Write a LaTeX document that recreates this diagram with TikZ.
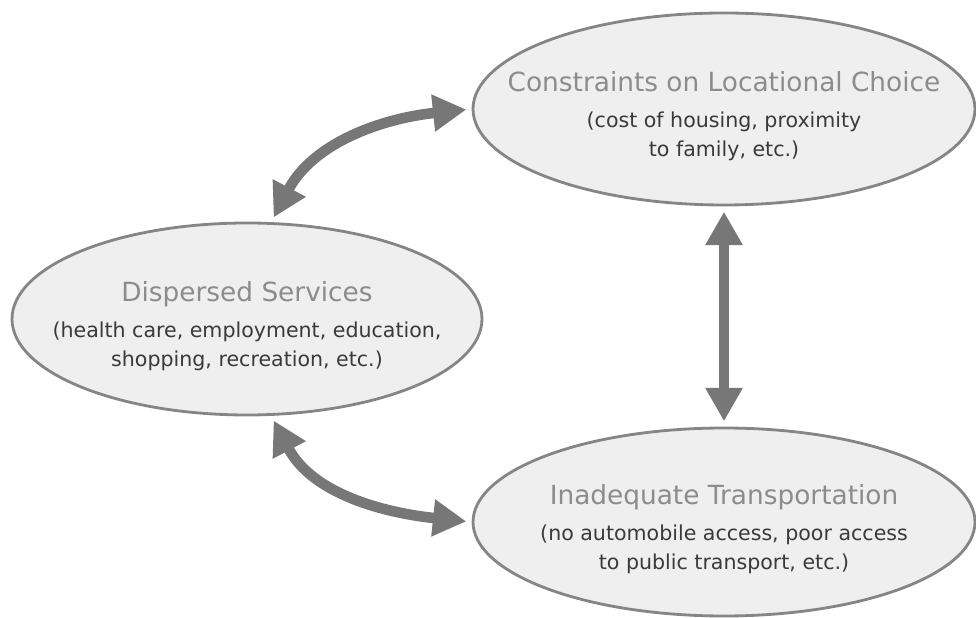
\documentclass[tikz,border=0pt]{standalone}
\usepackage{fontspec}
\setmainfont{DejaVu Sans}
\usetikzlibrary{shapes.geometric,arrows.meta}
\definecolor{rim}{HTML}{858585}
\definecolor{bubfill}{HTML}{EFEFEF}
\definecolor{headgrey}{HTML}{8C8C8C}
\definecolor{bodygrey}{HTML}{3A3A3A}
\definecolor{arrgrey}{HTML}{777777}

\begin{document}
\begin{tikzpicture}[
	bubble/.style={ellipse,draw=rim,line width=1.6pt,fill=bubfill,inner sep=0pt},
	bubtext/.style={align=center,text=bodygrey,font=\fontsize{11.7}{17}\selectfont,yshift=-0.15cm},
	twoway/.style={draw=arrgrey,line width=6pt,{Triangle[width=20pt,length=19pt]}-{Triangle[width=20pt,length=19pt]},shorten <=3pt,shorten >=3pt}
	]
		\useasboundingbox (0,0) rectangle (19.52,12.36); %page
		\node[bubble,minimum width=10.04cm,minimum height=3.84cm] (constr) at (14.48,10.18) {}; % elipse de arriba
		\node[bubble,minimum width=9.40cm,minimum height=3.84cm] (disp) at (4.94,5.98) {}; % elipse izquierda
		\node[bubble,minimum width=10.04cm,minimum height=3.76cm] (transp) at (14.48,1.92) {}; % elipse de abajo
		\node[bubtext] (constr-t) at (constr.center) {{\fontsize{15}{20}\selectfont\color{headgrey}Constraints on Locational Choice}\\[3pt] (cost of housing, proximity\\ to family, etc.)};
		\node[bubtext] (disp-t) at (disp.center) {{\fontsize{15}{20}\selectfont\color{headgrey}Dispersed Services}\\[3pt] (health care, employment, education,\\ shopping, recreation, etc.)};
		\node[bubtext] (transp-t) at (transp.center) {{\fontsize{15}{20}\selectfont\color{headgrey}Inadequate Transportation}\\[3pt] (no automobile access, poor access\\ to public transport, etc.)};
		\draw[twoway] (disp.76) to[out=62,in=186] (constr.west); % flecha arriba
		\draw[twoway] (disp.-76) to[out=-62,in=174] (transp.west); % flecha abajo
		\draw[twoway] (constr.south) -- (transp.north); % flecha vertical
\end{tikzpicture}
\end{document}
